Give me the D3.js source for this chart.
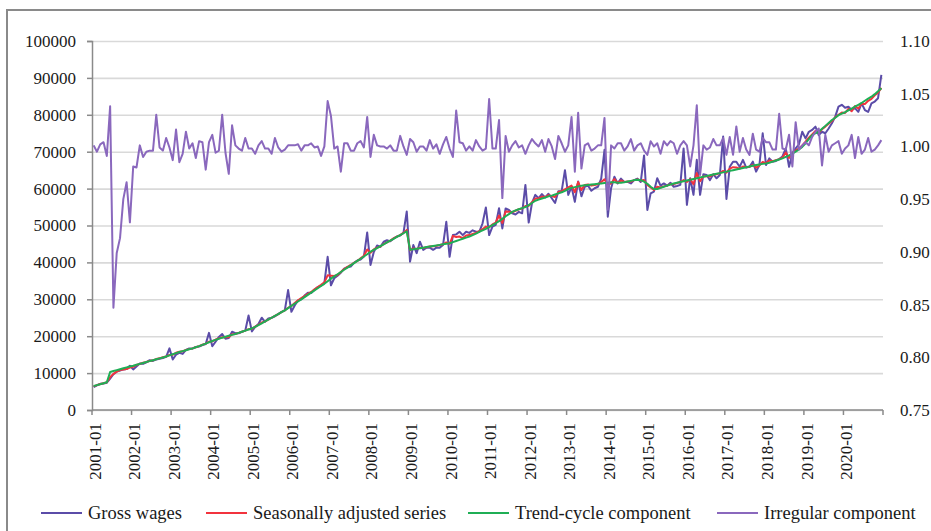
<!DOCTYPE html>
<html>
<head>
<meta charset="utf-8">
<script src="https://cdn.jsdelivr.net/npm/d3@7"></script>
<style>
body { margin: 0; background: #fff; }
text { font-family: "Liberation Serif", "Times New Roman", serif; fill: #1a1a1a; }
</style>
</head>
<body>
<div id="chart"></div>
<script>

var years = [2001, 2002, 2003, 2004, 2005, 2006, 2007, 2008, 2009, 2010,
             2011, 2012, 2013, 2014, 2015, 2016, 2017, 2018, 2019, 2020];
var monthNames = ["01", "02", "03", "04", "05", "06", "07", "08", "09", "10", "11", "12"];

// one row per year, Jan..Dec
var grossWages = [
  6200, 6700, 7100, 7200, 7400, 8500, 9700, 10400, 10700, 11000, 11100, 12000,
  11000, 11800, 12600, 12500, 12900, 13500, 13300, 13700, 13900, 14100, 14400, 16700,
  13700, 15000, 15500, 15200, 16300, 16700, 16600, 17100, 17200, 17600, 17900, 20900,
  17300, 18500, 19800, 20600, 19300, 19500, 21200, 20800, 20800, 21200, 21500, 25600,
  21300, 22500, 23300, 25000, 23900, 24800, 25000, 25400, 26000, 26600, 27000, 32500,
  26600, 28300, 29700, 30000, 31000, 31800, 31700, 32600, 33300, 33700, 34400, 41500,
  33800, 35700, 36400, 37200, 38300, 38700, 38900, 39900, 40500, 40800, 41600, 48100,
  39300, 42800, 44600, 44200, 45600, 46000, 45700, 46500, 47000, 47300, 48000, 53800,
  40200, 44700, 42500, 45600, 43400, 44000, 44000, 43400, 44000, 44000, 44700, 51000,
  41500, 47400, 47600, 48300, 47400, 48300, 48000, 48700, 48300, 48300, 50600, 54900,
  47400, 49700, 50200, 54700, 49200, 54600, 54200, 53300, 53000, 53700, 53300, 61000,
  50800, 56100, 58300, 57400, 58500, 57600, 58600, 57400, 56100, 59300, 59300, 65000,
  58300, 60500, 56400, 61900, 57900, 60500, 60800, 59400, 60100, 60500, 62700, 70500,
  52400, 60100, 63200, 61400, 62700, 61800, 61800, 61400, 62300, 62700, 61800, 69000,
  54200, 58700, 59200, 62800, 60800, 61400, 60800, 61600, 60500, 60700, 61000, 70900,
  55600, 62800, 58300, 67800, 58300, 63900, 63700, 62300, 63900, 62800, 63700, 74100,
  57200, 65900, 67300, 67300, 65900, 67800, 65700, 65900, 67300, 64600, 66400, 75000,
  66400, 68200, 67300, 67500, 68000, 68700, 70900, 65900, 69600, 70900, 72000, 75400,
  73600, 75400, 75900, 76800, 74500, 75400, 75000, 76300, 77700, 79500, 82200, 82700,
  81900, 82200, 81300, 81800, 80800, 83100, 81300, 80800, 83100, 83600, 84500, 90800
];

var seasonallyAdjusted = [
  6400, 6750, 7050, 7250, 7500, 8900, 9800, 10400, 10800, 11000, 11100, 11500,
  11700, 12200, 12500, 12800, 13000, 13300, 13500, 13800, 14000, 14300, 14500, 14900,
  15000, 15500, 15800, 15900, 16300, 16500, 16700, 17000, 17300, 17700, 18000, 18500,
  18600, 19100, 19400, 19700, 19700, 19800, 20500, 20600, 20900, 21200, 21500, 21900,
  22000, 22600, 23100, 23700, 24000, 24500, 25000, 25500, 26000, 26500, 27000, 27700,
  28200, 29000, 29700, 30300, 30900, 31500, 32000, 32700, 33300, 33900, 34600, 36500,
  36400, 36300, 36600, 37400, 38200, 38800, 39300, 39900, 40400, 41100, 41800, 43500,
  42600, 43500, 44000, 44300, 45000, 45400, 45900, 46500, 47000, 47400, 48000, 48800,
  43300, 43800, 43600, 44000, 43900, 44100, 44300, 44400, 44500, 44700, 44900, 45400,
  45000, 47200, 46900, 47000, 46600, 47300, 47400, 47700, 48000, 48500, 49000, 49700,
  49500, 50300, 50800, 52700, 50700, 53800, 53700, 53600, 54000, 54400, 54600, 55300,
  55300, 56300, 57300, 57300, 57800, 57700, 58200, 58000, 57700, 59100, 59300, 59800,
  60300, 60800, 59000, 61800, 59600, 61000, 61100, 60800, 61000, 61200, 61800, 62500,
  61100, 61400, 62600, 61500, 62200, 61800, 61900, 61900, 62300, 62500, 62200, 62300,
  61000, 60300, 59600, 60500, 60300, 60600, 60800, 61200, 61200, 61500, 61800, 62300,
  61800, 62600, 61200, 64200, 62000, 63300, 63400, 63300, 63800, 63900, 64200, 64800,
  64300, 65400, 65800, 65700, 65400, 66000, 65800, 65900, 66400, 65700, 66300, 67200,
  66900, 67600, 67400, 67700, 68000, 68400, 69800, 68300, 69600, 70300, 70900, 71700,
  72700, 73800, 74700, 75600, 75200, 76100, 76800, 77600, 78300, 79300, 80000, 80600,
  80500, 81600, 81000, 82400, 81700, 83000, 82900, 83800, 84300, 85300, 86000, 87300
];

var trendCycle = [
  6500, 6750, 7000, 7250, 7500, 10300, 10550, 10800, 11050, 11300, 11550, 11800,
  12000, 12250, 12500, 12750, 13000, 13250, 13500, 13750, 14000, 14250, 14500, 14800,
  15100, 15400, 15700, 15950, 16200, 16450, 16700, 17000, 17300, 17650, 18000, 18350,
  18700, 19000, 19300, 19600, 19850, 20100, 20350, 20600, 20900, 21200, 21500, 21800,
  22100, 22550, 23000, 23500, 24000, 24500, 25000, 25500, 26000, 26500, 27000, 27600,
  28200, 28800, 29400, 30000, 30600, 31200, 31800, 32400, 33000, 33600, 34200, 34900,
  35600, 36200, 36800, 37400, 38000, 38600, 39200, 39800, 40400, 41000, 41600, 42200,
  42900, 43400, 43900, 44400, 44900, 45400, 45900, 46400, 46900, 47400, 47900, 48400,
  43400, 43550, 43700, 43850, 44000, 44150, 44300, 44450, 44600, 44750, 44900, 45050,
  45200, 45500, 45800, 46100, 46400, 46700, 47000, 47400, 47800, 48300, 48700, 49100,
  49600, 50100, 50600, 51200, 51800, 52500, 53100, 53700, 54100, 54400, 54700, 55000,
  55500, 56100, 56700, 57000, 57300, 57600, 57900, 58100, 58400, 58700, 59000, 59400,
  59900, 60200, 60400, 60600, 60800, 60900, 61000, 61100, 61200, 61300, 61400, 61500,
  61600, 61700, 61700, 61600, 61600, 61700, 61900, 62100, 62300, 62400, 62300, 61900,
  61300, 60500, 59900, 59900, 60200, 60500, 60800, 61100, 61400, 61600, 61800, 62000,
  62200, 62400, 62600, 62800, 63000, 63200, 63400, 63600, 63800, 64000, 64200, 64400,
  64600, 64800, 65000, 65200, 65400, 65600, 65800, 66000, 66200, 66400, 66550, 66700,
  66800, 67000, 67300, 67600, 67900, 68200, 68600, 69000, 69500, 70000, 70600, 71300,
  72300, 73400, 74500, 75000, 75400, 76200, 77000, 77800, 78600, 79200, 79900, 80300,
  80700, 81200, 81700, 82200, 82700, 83200, 83800, 84400, 84900, 85600, 86400, 87200
];

// right axis
var irregular = [
  1.001, 0.995, 1.002, 1.004, 0.991, 1.038, 0.847, 0.899, 0.913, 0.950, 0.966, 0.928,
  0.981, 0.980, 1.001, 0.990, 0.995, 0.996, 0.996, 1.030, 0.999, 0.996, 1.008, 0.999,
  0.987, 1.016, 0.985, 0.993, 1.014, 0.998, 1.003, 0.989, 1.005, 1.004, 0.978, 1.004,
  1.011, 0.994, 0.996, 1.030, 0.994, 0.974, 1.020, 1.001, 0.998, 0.996, 1.008, 0.998,
  0.998, 0.993, 1.001, 1.005, 0.998, 0.998, 0.993, 1.008, 0.999, 0.995, 0.997, 1.001,
  1.001, 1.001, 1.002, 0.996, 1.001, 1.001, 1.003, 0.999, 1.000, 0.991, 1.000, 1.043,
  1.029, 0.998, 1.000, 0.976, 1.003, 1.003, 0.996, 0.996, 1.003, 1.005, 0.999, 1.028,
  0.990, 1.011, 1.001, 1.000, 1.000, 0.998, 1.001, 0.996, 0.996, 1.010, 1.000, 0.992,
  1.007, 1.004, 0.995, 1.000, 1.000, 0.996, 1.006, 0.998, 1.002, 0.993, 1.002, 1.009,
  0.998, 0.990, 1.034, 1.004, 1.003, 0.996, 1.000, 0.996, 1.006, 1.000, 0.996, 0.998,
  1.045, 0.998, 0.998, 1.025, 0.951, 1.010, 0.995, 1.001, 1.005, 0.999, 1.001, 0.993,
  1.001, 1.007, 1.003, 1.000, 1.006, 0.995, 1.007, 1.000, 0.988, 1.010, 1.003, 0.995,
  1.001, 1.028, 0.976, 1.032, 0.979, 1.001, 1.003, 0.996, 0.998, 1.001, 1.001, 1.027,
  0.940, 1.001, 0.998, 1.003, 1.003, 0.996, 1.000, 1.007, 0.996, 1.001, 1.003, 0.996,
  0.992, 1.005, 1.000, 1.003, 0.993, 1.005, 1.001, 1.005, 1.003, 0.993, 1.001, 1.005,
  1.001, 0.981, 1.001, 1.039, 0.973, 1.001, 0.997, 0.999, 1.007, 1.001, 1.001, 1.008,
  0.992, 1.009, 0.992, 1.019, 0.995, 1.008, 0.997, 0.992, 1.012, 0.997, 0.995, 1.008,
  1.004, 1.004, 0.997, 0.997, 1.031, 0.998, 0.997, 1.011, 0.981, 1.023, 0.997, 1.001,
  1.004, 1.001, 1.009, 1.014, 1.017, 0.982, 1.011, 0.995, 1.001, 1.003, 1.005, 0.993,
  0.998, 1.001, 1.011, 0.989, 1.009, 0.993, 0.997, 1.008, 0.995, 0.997, 1.001, 1.006
];

var leftTicks = [0, 10000, 20000, 30000, 40000, 50000, 60000, 70000, 80000, 90000, 100000];
var rightTicks = [0.75, 0.80, 0.85, 0.90, 0.95, 1.00, 1.05, 1.10];
var seriesNames = ["Gross wages", "Seasonally adjusted series", "Trend-cycle component", "Irregular component"];

var months = [];
years.forEach(function(yr) {
  monthNames.forEach(function(m) { months.push(yr + "-" + m); });
});

var width = 931, height = 531;
var plotLeft = 92, plotRight = 883, plotTop = 41, plotBottom = 410;

var svg = d3.select("#chart")
  .append("svg")
    .attr("width", width)
    .attr("height", height);

// chart frame (right and bottom edges fall outside the picture)
svg.append("rect")
  .attr("x", 7)
  .attr("y", 10)
  .attr("width", 980)
  .attr("height", 580)
  .attr("fill", "none")
  .attr("stroke", "#8a8a8a")
  .attr("stroke-width", 2);

var x = d3.scaleBand()
  .domain(months)
  .range([plotLeft, plotRight]);

var y = d3.scaleLinear()
  .domain([0, 100000])
  .range([plotBottom, plotTop]);

var y2 = d3.scaleLinear()
  .domain([0.75, 1.10])
  .range([plotBottom, plotTop]);

var cx = function(d, i) { return x(months[i]) + x.bandwidth() / 2; };

// gridlines
svg.append("g")
  .attr("transform", "translate(" + plotLeft + ",0)")
  .call(d3.axisLeft(y).tickValues(leftTicks).tickSize(-(plotRight - plotLeft)).tickFormat(""))
  .call(function(g) {
    g.select(".domain").remove();
    g.selectAll(".tick line").attr("stroke", "#d9d9d9").attr("stroke-width", 1.6);
  });

// left axis
svg.append("g")
  .attr("transform", "translate(" + plotLeft + ",0)")
  .call(d3.axisLeft(y).tickValues(leftTicks).tickSize(5).tickPadding(11).tickFormat(d3.format("d")))
  .call(function(g) {
    g.select(".domain").attr("stroke", "#8a8a8a").attr("stroke-width", 1.5);
    g.selectAll(".tick line").attr("stroke", "#8a8a8a").attr("stroke-width", 1.5);
    g.selectAll("text").style("font-size", "17px").attr("fill", "#1a1a1a")
      .style("font-family", "'Liberation Serif', serif");
  });

// right axis, labels only
svg.append("g")
  .attr("transform", "translate(" + plotRight + ",0)")
  .call(d3.axisRight(y2).tickValues(rightTicks).tickSize(0).tickPadding(17).tickFormat(d3.format(".2f")))
  .call(function(g) {
    g.select(".domain").remove();
    g.selectAll("text").style("font-size", "17px").attr("fill", "#1a1a1a")
      .style("font-family", "'Liberation Serif', serif");
  });

// bottom axis
var janMonths = months.filter(function(m) { return m.slice(5) == "01"; });

svg.append("line")
  .attr("x1", plotLeft).attr("x2", plotRight)
  .attr("y1", plotBottom).attr("y2", plotBottom)
  .attr("stroke", "#8a8a8a")
  .attr("stroke-width", 1.5);

svg.append("g")
  .selectAll("line")
  .data(janMonths.map(function(m) { return x(m); }).concat([plotRight]))
  .enter()
  .append("line")
    .attr("x1", function(d) { return d; })
    .attr("x2", function(d) { return d; })
    .attr("y1", plotBottom)
    .attr("y2", plotBottom + 5)
    .attr("stroke", "#8a8a8a")
    .attr("stroke-width", 1.5);

svg.append("g")
  .selectAll("text")
  .data(janMonths)
  .enter()
  .append("text")
    .attr("transform", function(d) {
      return "translate(" + (x(d) + x.bandwidth() / 2 + 1) + "," + (plotBottom + 13) + ") rotate(-90)";
    })
    .attr("text-anchor", "end")
    .attr("dy", "0.35em")
    .style("font-size", "17px")
    .text(function(d) { return d; });

// series
var colors = ["#5b4ca8", "#f2333d", "#1fae55", "#8a68bd"];

var lineLeft = d3.line()
  .x(cx)
  .y(function(d) { return y(d); });

var lineRight = d3.line()
  .x(cx)
  .y(function(d) { return y2(d); });

svg.append("path")
  .datum(grossWages)
  .attr("d", lineLeft)
  .attr("fill", "none")
  .attr("stroke", colors[0])
  .attr("stroke-width", 2)
  .attr("stroke-linejoin", "round");

svg.append("path")
  .datum(seasonallyAdjusted)
  .attr("d", lineLeft)
  .attr("fill", "none")
  .attr("stroke", colors[1])
  .attr("stroke-width", 2)
  .attr("stroke-linejoin", "round");

svg.append("path")
  .datum(trendCycle)
  .attr("d", lineLeft)
  .attr("fill", "none")
  .attr("stroke", colors[2])
  .attr("stroke-width", 2)
  .attr("stroke-linejoin", "round");

svg.append("path")
  .datum(irregular)
  .attr("d", lineRight)
  .attr("fill", "none")
  .attr("stroke", colors[3])
  .attr("stroke-width", 2)
  .attr("stroke-linejoin", "round");

// legend
var legendX = [41, 206, 468, 717];

var legend = svg.append("g")
  .selectAll("g")
  .data(seriesNames)
  .enter()
  .append("g")
    .attr("transform", function(d, i) { return "translate(" + legendX[i] + ",513)"; });

legend.append("line")
  .attr("x1", 0).attr("x2", 41)
  .attr("y1", 0).attr("y2", 0)
  .attr("stroke", function(d, i) { return colors[i]; })
  .attr("stroke-width", 2);

legend.append("text")
  .attr("x", 47)
  .attr("y", 0)
  .attr("dy", "0.35em")
  .style("font-size", "18.5px")
  .text(function(d) { return d; });

</script>
</body>
</html>
